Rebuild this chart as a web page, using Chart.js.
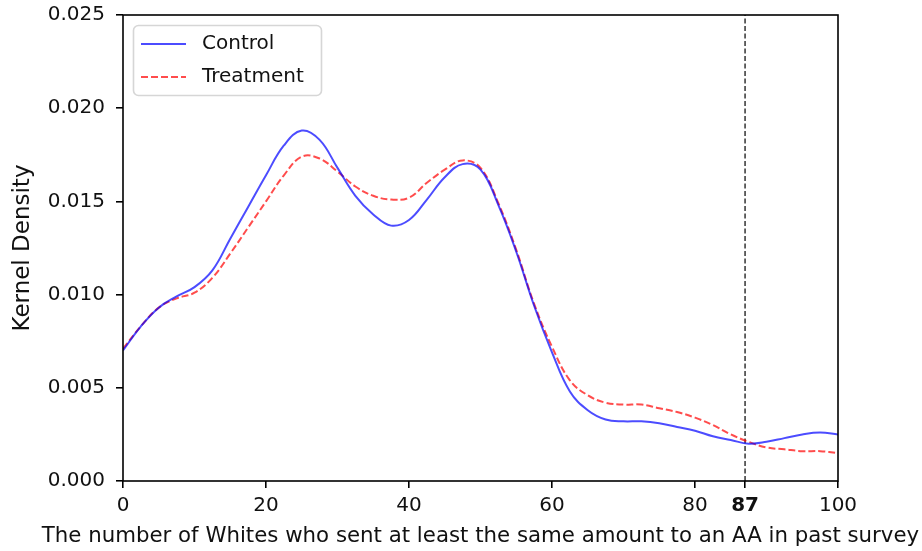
<!DOCTYPE html>
<html>
<head>
<meta charset="utf-8">
<script src="https://cdn.jsdelivr.net/npm/chart.js@4.4.0/dist/chart.umd.min.js"></script>
<style>
  body { margin: 0; background: #fff; }
</style>
</head>
<body>
<canvas id="kdeChart" width="922" height="551"></canvas>
<script>
const xValues = [0, 2.5, 5, 7.5, 10, 12.5, 15, 17.5, 20, 22.5, 25, 27.5, 30, 32.5, 35, 37.5, 40,
  42.5, 45, 47.5, 50, 52.5, 55, 57.5, 60, 62.5, 65, 67.5, 70, 72.5, 75, 77.5, 80, 82.5, 85, 87.5,
  90, 92.5, 95, 97.5, 100];
const control = [0.0070, 0.0083, 0.0093, 0.0099, 0.0104, 0.0113, 0.0130, 0.0147, 0.0164, 0.0180,
  0.0188, 0.0183, 0.0168, 0.0153, 0.0143, 0.0137, 0.0140, 0.0151, 0.0163, 0.0170, 0.0167, 0.0148,
  0.0123, 0.0094, 0.0069, 0.0048, 0.0038, 0.0033, 0.0032, 0.0032, 0.0031, 0.0029, 0.0027, 0.0024,
  0.0022, 0.0020, 0.0021, 0.0023, 0.0025, 0.0026, 0.0025];
const treatment = [0.0071, 0.0083, 0.0093, 0.0098, 0.0101, 0.0109, 0.0122, 0.0136, 0.0150, 0.0164,
  0.0174, 0.0173, 0.0166, 0.0158, 0.0153, 0.0151, 0.0152, 0.0160, 0.0167, 0.0172, 0.0168, 0.0149,
  0.0124, 0.0095, 0.0072, 0.0054, 0.0046, 0.0042, 0.0041, 0.0041, 0.0039, 0.0037, 0.0034, 0.0030,
  0.0025, 0.0021, 0.0018, 0.0017, 0.0016, 0.0016, 0.0015];
const markerX = 87;
const xTicks = [0, 20, 40, 60, 80, 87, 100];
const yTicks = [0, 0.005, 0.010, 0.015, 0.020, 0.025];
const seriesNames = ['Control', 'Treatment'];
const xTitle = 'The number of Whites who sent at least the same amount to an AA in past survey';

const blue = 'rgba(0,0,255,0.7)';
const red = 'rgba(255,0,0,0.7)';
const FONT = 'DejaVu Sans';

// matplotlib style frame around the plot, plus the x title (chart.js would squeeze it)
const framePlugin = {
  id: 'frame',
  afterDatasetsDraw(chart) {
    const a = chart.chartArea, ctx = chart.ctx;
    ctx.save();
    ctx.strokeStyle = '#000';
    ctx.lineWidth = 1.6;
    ctx.strokeRect(a.left, a.top, a.right - a.left, a.bottom - a.top);
    ctx.fillStyle = '#111';
    ctx.font = '21.3px "' + FONT + '"';
    ctx.textAlign = 'center';
    ctx.textBaseline = 'middle';
    ctx.fillText(xTitle, (a.left + a.right) / 2, 536);
    ctx.restore();
  }
};

// legend box inside the upper left corner
const boxLegend = {
  id: 'boxLegend',
  afterDraw(chart) {
    const ctx = chart.ctx;
    const x = 133.5, y = 25.5, w = 188, h = 70, r = 5;
    ctx.save();
    ctx.beginPath();
    ctx.roundRect(x, y, w, h, r);
    ctx.fillStyle = 'rgba(255,255,255,0.8)';
    ctx.fill();
    ctx.strokeStyle = 'rgba(204,204,204,0.8)';
    ctx.lineWidth = 1.6;
    ctx.stroke();
    const rows = [{y: 44, color: blue, dash: []}, {y: 77, color: red, dash: [7, 3]}];
    rows.forEach((row, i) => {
      ctx.beginPath();
      ctx.setLineDash(row.dash);
      ctx.strokeStyle = row.color;
      ctx.lineWidth = 2;
      ctx.moveTo(141, row.y);
      ctx.lineTo(186, row.y);
      ctx.stroke();
      ctx.setLineDash([]);
      ctx.fillStyle = '#111';
      ctx.font = '20px "' + FONT + '"';
      ctx.textBaseline = 'middle';
      ctx.fillText(seriesNames[i], 202, row.y);
    });
    ctx.restore();
  }
};

new Chart(document.getElementById('kdeChart'), {
  type: 'line',
  data: {
    datasets: [{
      label: seriesNames[0],
      data: xValues.map((x, i) => ({x: x, y: control[i]})),
      borderColor: blue,
      borderWidth: 2,
      pointRadius: 0,
      tension: 0.4,
      fill: false
    }, {
      label: seriesNames[1],
      data: xValues.map((x, i) => ({x: x, y: treatment[i]})),
      borderColor: red,
      borderWidth: 2,
      borderDash: [7, 3],
      pointRadius: 0,
      tension: 0.4,
      fill: false
    }, {
      label: 'marker',
      data: [{x: markerX, y: yTicks[0]}, {x: markerX, y: yTicks[yTicks.length - 1]}],
      borderColor: '#000',
      borderWidth: 1.2,
      borderDash: [5, 2.5],
      pointRadius: 0,
      fill: false
    }]
  },
  options: {
    responsive: false,
    animation: false,
    devicePixelRatio: 1,
    layout: { padding: { top: 15, right: 84, left: 0, bottom: 0 } },
    plugins: { legend: { display: false }, tooltip: { enabled: false } },
    scales: {
      x: {
        type: 'linear',
        min: 0,
        max: 100,
        afterBuildTicks: s => { s.ticks = xTicks.map(v => ({value: v})); },
        afterFit: s => { s.height = 70; s.paddingLeft = 0; s.paddingRight = 0; },
        grid: { drawOnChartArea: false, drawTicks: true, tickLength: 7, color: '#000', lineWidth: 1.6 },
        border: { display: false },
        ticks: {
          padding: 6,
          color: '#111',
          maxRotation: 0,
          autoSkip: false,
          font: ctx => ({ family: FONT, size: 20, weight: ctx.tick && ctx.tick.value === markerX ? 'bold' : 'normal' }),
          callback: v => String(v)
        },
        title: { display: false }
      },
      y: {
        min: 0,
        max: 0.025,
        afterBuildTicks: s => { s.ticks = yTicks.map(v => ({value: v})); },
        afterFit: s => { s.width = 123; s.paddingTop = 0; s.paddingBottom = 0; },
        grid: { drawOnChartArea: false, drawTicks: true, tickLength: 7, color: '#000', lineWidth: 1.6 },
        border: { display: false },
        ticks: {
          padding: 11,
          color: '#111',
          font: { family: FONT, size: 20 },
          callback: v => v.toFixed(3)
        },
        title: {
          display: true,
          text: 'Kernel Density',
          color: '#111',
          font: { family: FONT, size: 23 },
          padding: { top: 9, bottom: 0 }
        }
      }
    }
  },
  plugins: [framePlugin, boxLegend]
});
</script>
</body>
</html>
